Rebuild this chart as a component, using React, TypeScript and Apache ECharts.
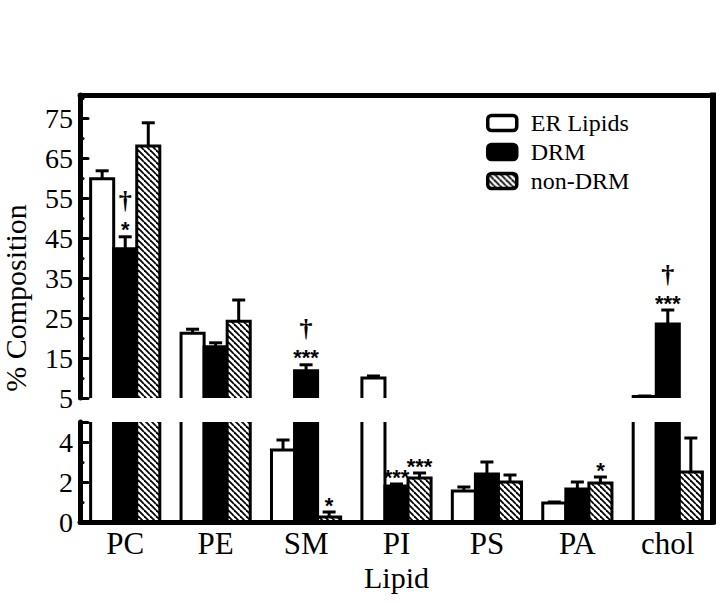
import React, { useEffect, useRef } from 'react';
import * as echarts from 'echarts';

const categories = ['PC', 'PE', 'SM', 'PI', 'PS', 'PA', 'chol'];
const seriesNames = ['ER Lipids', 'DRM', 'non-DRM'];

const erValues = [59.8, 21.2, 3.6, 10.0, 1.55, 0.95, 5.4];
const erErrors = [2.0, 1.0, 0.5, 0.5, 0.2, 0.05, 0.1];
const drmValues = [42.3, 17.8, 11.8, 1.8, 2.4, 1.65, 23.5];
const drmErrors = [3.0, 1.0, 1.5, 0.1, 0.6, 0.35, 3.5];
const nonDrmValues = [68.0, 24.2, 0.25, 2.2, 2.0, 1.95, 2.5];
const nonDrmErrors = [5.8, 5.3, 0.25, 0.25, 0.35, 0.3, 1.7];

const erStars = ['', '', '', '', '', '', ''];
const erDaggers = ['', '', '', '', '', '', ''];
const drmStars = ['*', '', '***', '***', '', '', '***'];
const drmDaggers = ['†', '', '†', '', '', '', '†'];
const nonDrmStars = ['', '', '*', '***', '', '*', ''];
const nonDrmDaggers = ['', '', '', '', '', '', ''];

const upperMin = 5;
const upperMax = 80.75;
const upperInterval = 10;
const lowerMin = 0;
const lowerMax = 5;
const lowerInterval = 2;

const SERIF = 'Liberation Serif';

function makeHatch() {
  const s = 6;
  const c = document.createElement('canvas');
  c.width = s;
  c.height = s;
  const g = c.getContext('2d')!;
  g.fillStyle = '#fff';
  g.fillRect(0, 0, s, s);
  g.strokeStyle = '#000';
  g.lineWidth = 1.8;
  for (const k of [-1, 0, 1]) {
    g.beginPath();
    g.moveTo(0, k * s);
    g.lineTo(s, s + k * s);
    g.stroke();
  }
  return { image: c, repeat: 'repeat', imageWidth: s, imageHeight: s };
}

export default function App() {
  const ref = useRef<HTMLDivElement>(null);
  useEffect(() => {
    if (!ref.current) return;
    const chart = echarts.init(ref.current, null, { renderer: 'svg' });
    const hatch = makeHatch();
    const fills: any[] = ['#fff', '#000', hatch];
    const valuesList = [erValues, drmValues, nonDrmValues];
    const errorsList = [erErrors, drmErrors, nonDrmErrors];
    const starsList = [erStars, drmStars, nonDrmStars];
    const daggersList = [erDaggers, drmDaggers, nonDrmDaggers];

    const makeRender = (k: number) => (params: any, api: any) => {
      const idx = params.dataIndex;
      const cs = params.coordSys;
      const i = api.value(0);
      const v = api.value(1);
      const e = api.value(2);
      const band = api.size([1, 0])[0];
      const bw = band * 0.255;
      const top = api.coord([i, v]);
      const base = api.coord([i, 0]);
      const errTop = api.coord([i, v + e]);
      const x0 = top[0] + (k - 1) * bw - bw / 2;
      const xm = x0 + bw / 2;
      const by = base[1] + 12;
      const children: any[] = [
        {
          type: 'rect',
          shape: { x: x0, y: top[1], width: bw, height: by - top[1] },
          style: { fill: fills[k] },
        },
        {
          type: 'polyline',
          shape: { points: [[x0, by], [x0, top[1]], [x0 + bw, top[1]], [x0 + bw, by]] },
          style: { stroke: '#000', lineWidth: 3, fill: null, lineJoin: 'miter' },
        },
        {
          type: 'line',
          shape: { x1: xm, y1: top[1], x2: xm, y2: errTop[1] },
          style: { stroke: '#000', lineWidth: 3 },
        },
        {
          type: 'line',
          shape: { x1: xm - 6.5, y1: errTop[1], x2: xm + 6.5, y2: errTop[1] },
          style: { stroke: '#000', lineWidth: 3 },
        },
      ];
      const inPanel = errTop[1] >= cs.y && errTop[1] <= cs.y + cs.height;
      const st = starsList[k][idx];
      const dg = daggersList[k][idx];
      if (st && inPanel) {
        children.push({
          type: 'text',
          x: xm,
          y: errTop[1] - 7,
          style: {
            text: st, font: 'bold 22px Liberation Sans', fill: '#000',
            align: 'center', verticalAlign: 'middle', textAlign: 'center', textVerticalAlign: 'middle',
          },
        });
      }
      if (dg && inPanel) {
        children.push({
          type: 'text',
          x: xm,
          y: errTop[1] - 36,
          style: {
            text: dg, font: 'bold 26px Liberation Serif', fill: '#000',
            align: 'center', verticalAlign: 'middle', textAlign: 'center', textVerticalAlign: 'middle',
          },
        });
      }
      return { type: 'group', children };
    };

    const series: any[] = [];
    for (let g = 0; g < 2; g++) {
      for (let k = 0; k < 3; k++) {
        series.push({
          type: 'custom',
          name: seriesNames[k],
          xAxisIndex: g,
          yAxisIndex: g,
          clip: true,
          itemStyle: { color: fills[k], borderColor: '#000', borderWidth: 3 },
          renderItem: makeRender(k),
          encode: { x: 0, y: 1 },
          data: valuesList[k].map((v, i) => [i, v, errorsList[k][i]]),
        });
      }
    }

    const axisLine = { show: true, onZero: false, lineStyle: { color: '#000', width: 5 } };
    const yCommon = {
      type: 'value',
      z: 5,
      axisLine,
      axisTick: { show: true, inside: true, length: 8, lineStyle: { color: '#000', width: 3, cap: 'round' } },
      minorTick: { show: true, splitNumber: 2, length: 3, lineStyle: { color: '#000', width: 3, cap: 'round' } },
      splitLine: { show: false },
      minorSplitLine: { show: false },
      axisLabel: { color: '#000', fontFamily: SERIF, fontSize: 28, margin: 7, showMaxLabel: false },
    };

    chart.setOption({
      animation: false,
      backgroundColor: '#fff',
      textStyle: { fontFamily: SERIF },
      grid: [
        { left: 80, right: 8, top: 95, height: 303 },
        { left: 80, right: 8, top: 422, height: 100 },
      ],
      xAxis: [
        {
          gridIndex: 0, type: 'category', data: categories, position: 'top', z: 5,
          axisLine, axisTick: { show: false }, axisLabel: { show: false }, splitLine: { show: false },
        },
        {
          gridIndex: 1, type: 'category', data: categories, position: 'bottom', z: 5,
          axisLine, axisTick: { show: false }, splitLine: { show: false },
          axisLabel: { color: '#000', fontFamily: SERIF, fontSize: 31, margin: 6 },
          name: 'Lipid', nameLocation: 'middle', nameGap: 40,
          nameTextStyle: { color: '#000', fontFamily: SERIF, fontSize: 30 },
        },
      ],
      yAxis: [
        { ...yCommon, gridIndex: 0, min: upperMin, max: upperMax, interval: upperInterval },
        { ...yCommon, gridIndex: 1, min: lowerMin, max: lowerMax, interval: lowerInterval },
      ],
      legend: {
        orient: 'vertical', left: 481, top: 106, itemWidth: 29, itemHeight: 15, itemGap: 5,
        icon: 'roundRect',
        textStyle: { color: '#000', fontFamily: SERIF, fontSize: 24, padding: [0, 0, 0, 9] },
        data: seriesNames.map((n, k) => ({
          name: n,
          itemStyle: { color: fills[k], borderColor: '#000', borderWidth: 3.5 },
        })),
      },
      graphic: [
        {
          type: 'text', x: 15, y: 298, rotation: Math.PI / 2,
          style: {
            text: '% Composition', font: '30px Liberation Serif', fill: '#000',
            align: 'center', verticalAlign: 'middle', textAlign: 'center', textVerticalAlign: 'middle',
          },
        },
        {
          type: 'line',
          shape: { x1: 713, y1: 92.5, x2: 713, y2: 524.5 },
          style: { stroke: '#000', lineWidth: 6 },
        },
      ],
      series,
    });
    return () => chart.dispose();
  }, []);
  return <div ref={ref} style={{ position: 'fixed', left: 0, top: 0, width: 721, height: 603 }} />;
}
